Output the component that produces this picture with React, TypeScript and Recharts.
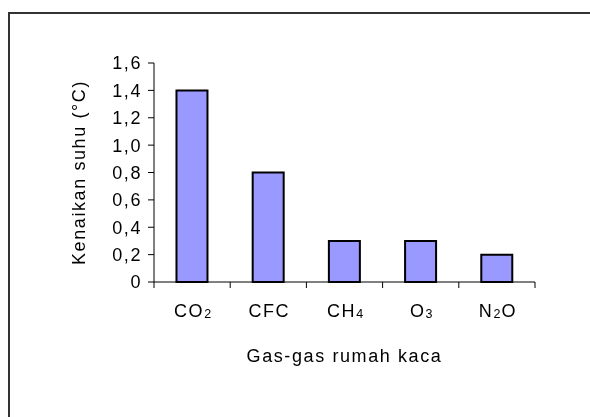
import React from "react";
import { BarChart, Bar, XAxis, YAxis, Label } from "recharts";

const categories = ["CO2", "CFC", "CH4", "O3", "N2O"];
const values = [1.4, 0.8, 0.3, 0.3, 0.2];
const yTicks = [0, 0.2, 0.4, 0.6, 0.8, 1.0, 1.2, 1.4, 1.6];
const xTitle = "Gas-gas rumah kaca";
const yTitle = "Kenaikan suhu (°C)";

const data = categories.map((c, i) => ({ name: c, value: values[i] }));

const FONT = "'Liberation Sans', Arial, sans-serif";
const FS = 18;
const LS = 1.6;

function renderFormula(s: string) {
  const parts: React.ReactNode[] = [];
  let buf = "";
  let key = 0;
  let lowered = false;
  for (const ch of s) {
    if (/[0-9]/.test(ch)) {
      if (buf) parts.push(<tspan key={key++}>{buf}</tspan>);
      buf = "";
      parts.push(
        <tspan key={key++} fontSize={12.5} dy={1} letterSpacing={1}>
          {ch}
        </tspan>
      );
      lowered = true;
    } else {
      if (lowered && !buf) {
        parts.push(<tspan key={key++} dy={-1}>{ch}</tspan>);
        lowered = false;
      } else {
        buf += ch;
      }
    }
  }
  if (buf) parts.push(<tspan key={key++}>{buf}</tspan>);
  return parts;
}

const XTick = (props: any) => {
  const { x, y, payload, index, visibleTicksCount } = props;
  const half = payload.offset || 0;
  const axisY = y - 8;
  return (
    <g>
      <line x1={x - half} x2={x - half} y1={axisY} y2={axisY + 6} stroke="#000" strokeWidth={1} />
      {index === visibleTicksCount - 1 && (
        <line x1={x + half} x2={x + half} y1={axisY} y2={axisY + 6} stroke="#000" strokeWidth={1} />
      )}
      <text
        x={x + 1}
        y={y + 27}
        textAnchor="middle"
        fill="#000"
        fontSize={FS}
        letterSpacing={LS}
        fontFamily={FONT}
      >
        {renderFormula(payload.value)}
      </text>
    </g>
  );
};

export default function App() {
  return (
    <div style={{ position: "relative", width: 574, height: 400 }}>
      <div
        style={{
          position: "fixed",
          left: 8,
          top: 12,
          width: 640,
          height: 460,
          borderLeft: "2px solid #333",
          borderTop: "2px solid #333",
          pointerEvents: "none",
        }}
      />
      <div style={{ position: "absolute", left: 0, top: 0 }}>
        <BarChart
          width={574}
          height={400}
          data={data}
          margin={{ top: 55, right: 47, left: 66, bottom: 46 }}
          barCategoryGap="29.5%"
        >
          <XAxis
            dataKey="name"
            tickLine={false}
            tick={<XTick />}
            height={80}
            axisLine={{ stroke: "#000", strokeWidth: 1 }}
            interval={0}
          >
            <Label
              value={xTitle}
              position="insideBottom"
              offset={0}
              fill="#000"
              fontSize={FS}
              letterSpacing={LS}
              fontFamily={FONT}
            />
          </XAxis>
          <YAxis
            width={80}
            domain={[0, 1.6]}
            ticks={yTicks}
            interval={0}
            tickFormatter={(v: number) => (v === 0 ? "0" : v.toFixed(1).replace(".", ","))}
            tick={{ fill: "#000", fontSize: FS, fontFamily: FONT, letterSpacing: LS }}
            tickLine={{ stroke: "#000" }}
            tickSize={6}
            tickMargin={6}
            axisLine={{ stroke: "#000", strokeWidth: 1 }}
          >
            <Label
              value={yTitle}
              angle={-90}
              position="insideLeft"
              offset={5}
              style={{ textAnchor: "middle" }}
              fill="#000"
              fontSize={FS}
              letterSpacing={LS}
              fontFamily={FONT}
            />
          </YAxis>
          <Bar
            dataKey="value"
            fill="#9999FF"
            stroke="#000"
            strokeWidth={2}
            isAnimationActive={false}
          />
        </BarChart>
      </div>
    </div>
  );
}
